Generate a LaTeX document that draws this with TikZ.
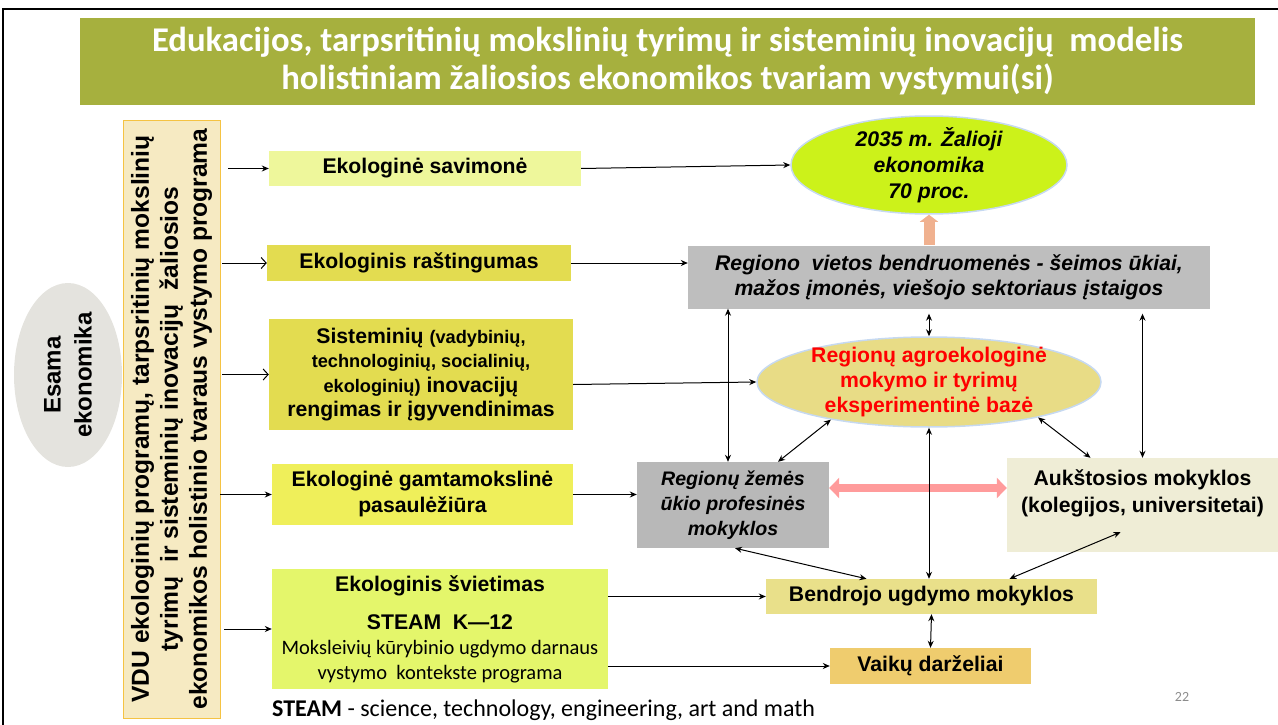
\documentclass[tikz,border=0pt]{standalone}
\usepackage{fontspec}
\setmainfont{Liberation Sans}
\newfontfamily\calibri{Carlito}
\usetikzlibrary{shapes.geometric, arrows.meta, positioning}
\newcommand{\sz}[2]{\fontsize{#1}{#2}\selectfont}
\definecolor{titlegreen}{HTML}{A6B03E}
\definecolor{esamagray}{HTML}{E4E3DE}
\definecolor{vdufill}{HTML}{F6EAC2}
\definecolor{vduline}{HTML}{F5C343}
\definecolor{lightlime}{HTML}{EEF79B}
\definecolor{mustard}{HTML}{E3DC50}
\definecolor{lemon}{HTML}{EFEF5A}
\definecolor{palelime}{HTML}{E4F66B}
\definecolor{midgray}{HTML}{BEBEBE}
\definecolor{schoolgray}{HTML}{B8B8B8}
\definecolor{greeneco}{HTML}{CCF21A}
\definecolor{sand}{HTML}{E8DC86}
\definecolor{cream}{HTML}{EFEDD6}
\definecolor{bendfill}{HTML}{E9E08A}
\definecolor{ochre}{HTML}{EFCC6E}
\definecolor{ovalline}{HTML}{C6D9F1}
\definecolor{rose}{HTML}{FF9B9B}
\definecolor{peach}{HTML}{F0B18F}
\definecolor{pagegray}{HTML}{8C8C8C}

\begin{document}
\begin{tikzpicture}[x=1pt, y=-1pt,
    box/.style={inner sep=0pt, align=center, font=\bfseries\sz{21.2}{25}},
    oval/.style={ellipse, draw=ovalline, line width=1.5pt, inner xsep=0pt, inner ysep=-6pt, align=center, font=\bfseries\sz{21.2}{25}},
    link/.style={-{Stealth[length=7pt,width=6pt]}, line width=1pt},
    both/.style={{Stealth[length=7pt,width=6pt]}-{Stealth[length=7pt,width=6pt]}, line width=1pt},
    open/.style={-{Straight Barb[length=5pt,width=11pt]}, line width=1pt}]
    \useasboundingbox (0,0) rectangle (1278,725);
    \draw[line width=2pt] (3,725) -- (3,9) -- (1278,9);

    \node[fill=titlegreen, minimum width=1175pt, minimum height=87pt, text=white, align=center, font=\calibri\bfseries\sz{34.7}{38}] (title) at (667.5,61.5)
        {Edukacijos, tarpsritinių mokslinių tyrimų ir sisteminių inovacijų\ \ modelis\\holistiniam žaliosios ekonomikos tvariam vystymui(si)};

    \node[ellipse, fill=esamagray, rotate=90, minimum width=184pt, minimum height=108pt, inner sep=0pt, align=center, font=\bfseries\sz{24}{31}] (esama) at (68,375) {Esama\\ekonomika};
    \node[box, draw=vduline, fill=vdufill, rotate=90, minimum width=598pt, minimum height=97pt, font=\bfseries\sz{24.6}{29}] (vdu) at (171.5,419)
        {VDU ekologinių programų, tarpsritinių mokslinių\\tyrimų\ \ ir sisteminių inovacijų\ \ žaliosios\\ekonomikos holistinio tvaraus vystymo programa};

    \node[box, fill=lightlime, minimum width=312pt, minimum height=35pt] (b1) at (425,168.5) {Ekologinė savimonė};
    \node[box, fill=mustard, minimum width=304pt, minimum height=36pt] (b2) at (419,263) {Ekologinis raštingumas};
    \node[box, fill=mustard, minimum width=304pt, minimum height=111pt, font=\bfseries\sz{21.2}{24.5}] (b3) at (421,374.5)
        {Sisteminių {\sz{18.2}{24.5}(vadybinių,}\\{\sz{18.2}{24.5}technologinių, socialinių,}\\{\sz{18.2}{24.5}ekologinių)} inovacijų\\rengimas ir įgyvendinimas};
    \node[box, fill=lemon, minimum width=301pt, minimum height=61pt, font=\bfseries\sz{21.2}{26}] (b4) at (422.5,494.5) {Ekologinė gamtamokslinė\\pasaulėžiūra};
    \node[box, fill=palelime, minimum width=336pt, minimum height=120pt] (b5) at (440,629)
        {Ekologinis švietimas\\[13pt]STEAM\ \ K—12\\{\calibri\mdseries\sz{20.5}{23}Moksleivių kūrybinio ugdymo darnaus}\\{\calibri\mdseries\sz{20.5}{23}vystymo\ \ kontekste programa}};

    \node[oval, fill=greeneco, minimum width=276pt, minimum height=98pt, font=\bfseries\itshape\sz{21.2}{26}] (zal) at (929,165) {2035 m. Žalioji\\ekonomika\\70 proc.};
    \node[box, fill=midgray, minimum width=522pt, minimum height=63pt, font=\bfseries\itshape\sz{21.2}{25}] (reg) at (949,277)
        {Regiono\ \ vietos bendruomenės - šeimos ūkiai,\\mažos įmonės, viešojo sektoriaus įstaigos};
    \node[oval, fill=sand, text=red, minimum width=344pt, minimum height=90pt] (agro) at (929,382) {Regionų agroekologinė\\mokymo ir tyrimų\\eksperimentinė bazė};
    \node[box, fill=schoolgray, minimum width=192pt, minimum height=86pt, font=\bfseries\itshape\sz{19.6}{25}] (zem) at (733,505) {Regionų žemės\\ūkio profesinės\\mokyklos};
    \node[box, fill=cream, minimum width=271pt, minimum height=94pt, font=\bfseries\sz{21.2}{27}] (auk) at (1142.5,505) {Aukštosios mokyklos\\(kolegijos, universitetai)\\[-8pt]\strut};
    \node[box, fill=bendfill, minimum width=331pt, minimum height=35pt] (bend) at (931.5,596.5) {Bendrojo ugdymo mokyklos};
    \node[box, fill=ochre, minimum width=201pt, minimum height=36pt] (vaik) at (930.5,666) {Vaikų darželiai};

    \node[anchor=west, inner sep=0pt, font=\calibri\sz{24}{26}] (steam) at (272,710) {\textbf{STEAM} - science, technology, engineering, art and math};
    \node[font=\calibri\sz{14}{15}, text=pagegray] (page) at (1182,697) {22};

    \foreach \b/\s/\g in {b1/link/8, b2/open/2, b3/open/2, b4/link/0, b5/link/4}
        \draw[\s, shorten <=\g pt] (vdu.south |- \b.west) -- (\b.west);

    \draw[link] (b1.east) -- (zal.west);
    \draw[link] (b2.east) -- (b2.east -| reg.west);
    \draw[link] ([yshift=-10pt]b3.east) -- (agro.west);
    \draw[link] (b4.east) -- (b4.east -| zem.west);
    \draw[link] (b5.east |- bend.west) -- (bend.west);
    \draw[link] (b5.east |- vaik.west) -- (vaik.west);

    \draw[-{Triangle[length=7pt,width=18pt]}, peach, line width=11pt] (reg.north -| zal.south) -- (zal.south);
    \draw[{Triangle[length=10pt,width=20pt]}-{Triangle[length=10pt,width=20pt]}, rose, line width=8pt] ([yshift=17pt]zem.east) -- ([yshift=17pt]zem.east -| auk.west);

    \draw[both] ([xshift=-5pt]zem.north |- reg.south) -- ([xshift=-5pt]zem.north);
    \draw[both, shorten <=5pt] (agro.north |- reg.south) -- (agro.north);
    \draw[both, shorten <=5pt] (auk.north |- reg.south) -- (auk.north);
    \draw[both] (agro.201) -- ([xshift=45pt]zem.north);
    \draw[both] (agro.342) -- ([xshift=-52pt]auk.north);
    \draw[both] (agro.south) -- (agro.south |- bend.north);
    \draw[both] ([xshift=2pt]zem.south) -- ([xshift=-65pt]bend.north);
    \coordinate (aukin) at ([xshift=-22pt,yshift=20pt]auk.south);
    \draw[both] (aukin) -- ([xshift=78pt]bend.north);
    \draw[both] (bend.south) -- (vaik.north);
\end{tikzpicture}
\end{document}
